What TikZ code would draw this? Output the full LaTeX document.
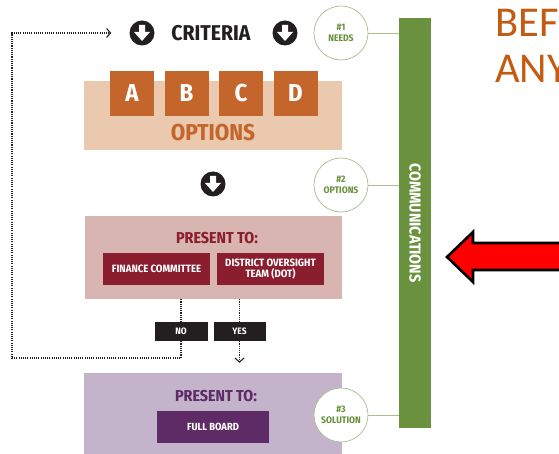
\documentclass[tikz,border=0pt]{standalone}
\usepackage{fontspec}
\newfontfamily\cf{Fira Sans Condensed}
\newfontfamily\calfont{Carlito}
\usetikzlibrary{arrows.meta}
\definecolor{ink}{HTML}{231F20}
\definecolor{orng}{HTML}{C4662B}
\definecolor{peach}{HTML}{EBC9AF}
\definecolor{pinkb}{HTML}{D8B5B1}
\definecolor{maroon}{HTML}{8A1E2E}
\definecolor{lav}{HTML}{C3B4CC}
\definecolor{purp}{HTML}{5E2B66}
\definecolor{grn}{HTML}{6A913D}
\definecolor{lgrn}{HTML}{A9BE8E}
\definecolor{titleor}{HTML}{C55A11}
\begin{document}
\begin{tikzpicture}[x=1pt,y=-1pt,
  band/.style={rectangle,inner sep=0pt,draw=none},
  lbox/.style={rectangle,inner sep=0pt,text=white,font=\cf\bfseries\fontsize{24.5}{24.5}\selectfont,fill=orng,minimum width=44,minimum height=45},
  wbox/.style={rectangle,inner sep=0pt,text=white,align=center,font=\cf\bfseries\fontsize{10.6}{11.5}\selectfont,minimum height=32},
  tag/.style={rectangle,inner sep=0pt,text=white,fill=ink,font=\cf\bfseries\fontsize{9.3}{9.3}\selectfont,minimum height=19},
  head/.style={inner sep=0pt,font=\cf\bfseries\fontsize{15.8}{15.8}\selectfont},
  icon/.style={circle,fill=ink,minimum size=25,inner sep=0pt},
  stage/.style={circle,draw=lgrn,line width=0.7pt,fill=white,minimum size=54,inner sep=0pt,text=grn,align=center,font=\cf\bfseries\fontsize{9.5}{11}\selectfont},
  dotline/.style={draw=ink,line width=1.1pt,dash pattern=on 1.1pt off 1.1pt},
  barb/.style={-{Straight Barb[length=4pt,width=9pt,line width=1.1pt]}},
  gline/.style={draw=lgrn,line width=0.8pt}
]
\clip (0,0) rectangle (559,454);
\fill[white] (0,0) rectangle (559,454);

% criteria row
\node[icon] (c1) at (142,33) {};
\node[inner sep=0pt,text=ink,font=\cf\bfseries\fontsize{21.4}{21.4}\selectfont] (crit) at (211,33) {CRITERIA};
\node[icon] (c2) at (285,33) {};

% options band
\node[band,fill=peach,minimum width=258,minimum height=69] (optband) at (213,115.5) {};
\node[lbox] (la) at (132,93.5) {A};
\node[lbox] (lb) at (186.5,93.5) {B};
\node[lbox] (lc) at (241,93.5) {C};
\node[lbox] (ld) at (295.5,93.5) {D};
\node[inner sep=0pt,text=orng,font=\cf\bfseries\fontsize{23}{23}\selectfont] (opt) at (213,133) {OPTIONS};

\node[icon] (c3) at (213,184) {};

% present to (committee)
\node[band,fill=pinkb,minimum width=257,minimum height=83] (pres) at (213.5,257.5) {};
\node[head,text=maroon] (pt1) at (217,238.5) {PRESENT TO:};
\node[wbox,fill=maroon,minimum width=107] (fin) at (156.5,269) {FINANCE COMMITTEE};
\node[wbox,fill=maroon,minimum width=107] (dot) at (270.5,269) {DISTRICT OVERSIGHT\\TEAM (DOT)};

% decision
\node[tag,minimum width=53] (no) at (181,331.5) {NO};
\node[tag,minimum width=52] (yes) at (239.5,331.5) {YES};

% present to (board)
\node[band,fill=lav,minimum width=258,minimum height=90] (board) at (213,418) {};
\node[head,text=purp] (pt2) at (216,396.5) {PRESENT TO:};
\node[wbox,fill=purp,minimum width=112,font=\cf\bfseries\fontsize{10.3}{10.3}\selectfont] (full) at (213,427) {FULL BOARD};

% white down arrows in icons
\foreach \c in {c1,c2,c3}{
  \fill[white,shift={(\c)}] (-3,-8) -- (3,-8) -- (3,-1) -- (8,-1) -- (0,8) -- (-8,-1) -- (-3,-1) -- cycle;
}

% communications bar
\node[band,fill=grn,minimum width=32,minimum height=410] (bar) at (415,223) {};
\node[rotate=-90,inner sep=0pt,text=white,font=\cf\bfseries\fontsize{15.8}{15.8}\selectfont] (comm) at (bar.center) {COMMUNICATIONS};

% stage circles
\node[stage] (s1) at (341,33) {\#1\\NEEDS};
\node[stage] (s2) at (341,185) {\#2\\OPTIONS};
\node[stage] (s3) at (341,415) {\#3\\SOLUTION};
\draw[gline] (s1.east) -- (s1.east -| bar.west);
\draw[gline] (s2.east) -- (s2.east -| bar.west);
\draw[gline] (s3.east) -- (s3.east -| bar.west);

% dotted connectors
\coordinate (lp) at (12,358);
\draw[dotline] (pres.south -| no.north) -- (no.north);
\draw[dotline,barb] (no.south) |- (lp) |- ([xshift=-18pt]c1.west);
\draw[dotline] (pres.south -| yes.north) -- (yes.north);
\draw[dotline,barb,shorten >=10pt] (yes.south) -- (yes.south |- board.north);

% red arrow
\filldraw[fill=red,draw=black,line width=2.6pt,line join=miter]
  (447,257) -- (473,232) -- (473,243) -- (575,243) -- (575,270) -- (473,270) -- (473,282) -- cycle;

% title text
\node[anchor=base west,inner sep=0pt,text=titleor,font=\calfont\fontsize{42.5}{42.5}\selectfont] (t1) at (495,37) {BEF};
\node[anchor=base west,inner sep=0pt,text=titleor,font=\calfont\fontsize{42.5}{42.5}\selectfont] (t2) at (495,83) {ANY};
\end{tikzpicture}
\end{document}
